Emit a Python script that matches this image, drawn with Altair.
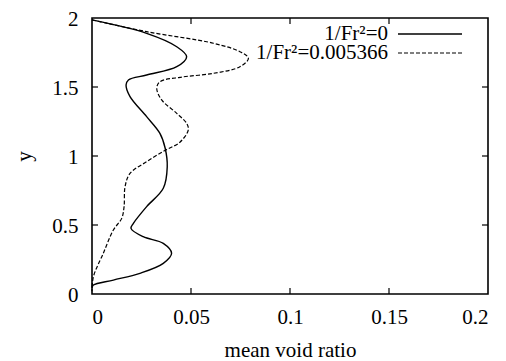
import altair as alt
import pandas as pd

# solid curve: 1/Fr^2 = 0
solid_x = [0.0, 0.0276, 0.0428, 0.0478, 0.0428, 0.0276, 0.0184, 0.0172, 0.0192, 0.0276,
           0.0343, 0.0369, 0.0380, 0.0360, 0.0276, 0.0209, 0.0197, 0.0259, 0.0360, 0.0402,
           0.0360, 0.0242, 0.0108, 0.0007, 0.0]
solid_y = [1.986, 1.889, 1.792, 1.720, 1.647, 1.587, 1.551, 1.514, 1.430, 1.285,
           1.164, 1.060, 0.922, 0.766, 0.633, 0.512, 0.476, 0.415, 0.367, 0.295,
           0.222, 0.150, 0.101, 0.065, 0.045]

# dashed curve: 1/Fr^2 = 0.005366
dash_x = [0.0, 0.0276, 0.0613, 0.0747, 0.0790, 0.0747, 0.0613, 0.0444, 0.0343, 0.0327,
          0.0352, 0.0428, 0.0478, 0.0486, 0.0444, 0.0368, 0.0276, 0.0192, 0.0167, 0.0162,
          0.0150, 0.0108, 0.0057, 0.0007, 0.0]
dash_y = [1.986, 1.901, 1.817, 1.756, 1.708, 1.647, 1.599, 1.570, 1.538, 1.490,
          1.406, 1.309, 1.237, 1.188, 1.100, 1.040, 0.959, 0.874, 0.778, 0.633,
          0.548, 0.464, 0.295, 0.125, 0.020]

legend_labels = ["1/Fr\u00b2=0", "1/Fr\u00b2=0.005366"]
x_ticks = [0, 0.05, 0.1, 0.15, 0.2]
y_ticks = [0, 0.5, 1, 1.5, 2]

W, H = 396, 276
FONT = "'Liberation Serif', 'Times New Roman', Times, serif"
FS = 21

df_s = pd.DataFrame({"x": solid_x, "y": solid_y, "i": range(len(solid_x))})
df_d = pd.DataFrame({"x": dash_x, "y": dash_y, "i": range(len(dash_x))})

xs = alt.Scale(domain=[0, 0.2], nice=False)
ys = alt.Scale(domain=[0, 2], nice=False)

xaxis = alt.Axis(values=x_ticks, format=".2~f", ticks=False, domain=False, grid=False, labelPadding=12,
                 title="mean void ratio", titleX=W / 2, titleY=62, titleBaseline="alphabetic")
yaxis = alt.Axis(values=y_ticks, format=".1~f", ticks=False, domain=False, grid=False, labelPadding=14,
                 labelOffset=1,
                 title="y", titleX=-68, titleY=H / 2, titleBaseline="middle", titleAlign="center")

solid = alt.Chart(df_s).mark_line(color="black", strokeWidth=1.4, interpolate="catmull-rom").encode(
    x=alt.X("x:Q", scale=xs, axis=xaxis),
    y=alt.Y("y:Q", scale=ys, axis=yaxis),
    order="i:Q",
)
dashed = alt.Chart(df_d).mark_line(color="black", strokeWidth=1.2, strokeDash=[4, 2],
                                   interpolate="catmull-rom").encode(
    x=alt.X("x:Q", scale=xs),
    y=alt.Y("y:Q", scale=ys),
    order="i:Q",
)

inner_x = pd.DataFrame({"t": x_ticks[1:-1]})
inner_y = pd.DataFrame({"t": y_ticks[1:-1]})
tb = alt.Chart(inner_x).mark_rule(color="black", strokeWidth=1.2).encode(
    x=alt.X("t:Q", scale=xs), y=alt.value(H), y2=alt.value(H - 6))
tt = alt.Chart(inner_x).mark_rule(color="black", strokeWidth=1.2).encode(
    x=alt.X("t:Q", scale=xs), y=alt.value(0), y2=alt.value(6))
tl = alt.Chart(inner_y).mark_rule(color="black", strokeWidth=1.2).encode(
    y=alt.Y("t:Q", scale=ys), x=alt.value(0), x2=alt.value(6))
tr = alt.Chart(inner_y).mark_rule(color="black", strokeWidth=1.2).encode(
    y=alt.Y("t:Q", scale=ys), x=alt.value(W), x2=alt.value(W - 6))

leg_df = pd.DataFrame({"label": legend_labels})
lt1 = alt.Chart(leg_df.iloc[[0]]).mark_text(font=FONT, fontSize=FS, align="right", baseline="middle",
                                            color="black").encode(
    text="label:N", x=alt.value(296), y=alt.value(16))
lt2 = alt.Chart(leg_df.iloc[[1]]).mark_text(font=FONT, fontSize=FS, align="right", baseline="middle",
                                            color="black").encode(
    text="label:N", x=alt.value(296), y=alt.value(35))
ls1 = alt.Chart(leg_df.iloc[[0]]).mark_rule(color="black", strokeWidth=1.4).encode(
    x=alt.value(306), x2=alt.value(370), y=alt.value(16))
ls2 = alt.Chart(leg_df.iloc[[1]]).mark_rule(color="black", strokeWidth=1.2, strokeDash=[4, 2]).encode(
    x=alt.value(306), x2=alt.value(370), y=alt.value(35))

chart = alt.layer(solid, dashed, tb, tt, tl, tr, lt1, lt2, ls1, ls2).properties(
    width=W, height=H, autosize="none", background="white",
    padding={"left": 84, "top": 10, "right": 10, "bottom": 67},
).configure_view(stroke="black", strokeWidth=1.6).configure_axis(
    labelFont=FONT, labelFontSize=FS, labelColor="black",
    titleFont=FONT, titleFontSize=FS, titleFontWeight="normal", titleColor="black",
)

chart.save("out.html", embed_options={"renderer": "svg", "actions": False})
